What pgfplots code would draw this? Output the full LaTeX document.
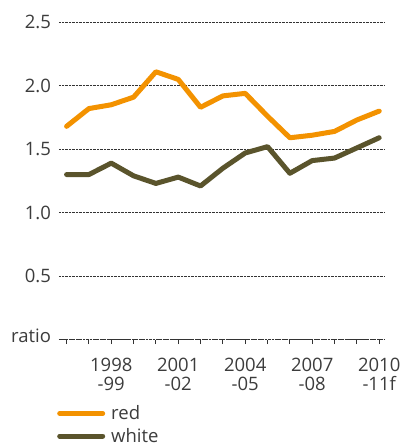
\documentclass[border=0pt]{standalone}
\usepackage{fontspec}
\setmainfont{Open Sans}
\usepackage{pgfplots}
\pgfplotsset{compat=1.18}
\usetikzlibrary{calc}
\definecolor{redwine}{RGB}{243,146,0}
\definecolor{whitewine}{RGB}{90,84,44}
\definecolor{txt}{RGB}{60,60,60}
\begin{document}
\begin{tikzpicture}
\begin{axis}[
  scale only axis, width=326pt, height=317.2pt,
  xmin=-0.34, xmax=14.26, ymin=0, ymax=2.5,
  axis x line*=bottom,
  axis y line*=left,
  x axis line style={densely dotted, black!80, line width=0.7pt},
  y axis line style={draw=none},
  clip=false,
  xtick={0,...,14},
  xticklabels={,,{1998\\-99},,,{2001\\-02},,,{2004\\-05},,,{2007\\-08},,,{2010\\-11f}},
  xticklabel style={align=center, font=\fontsize{18.5}{19}\selectfont, text=txt, yshift=-11pt},
  tick align=outside,
  major tick length=4.5pt,
  xtick style={black!80, line width=0.9pt, solid},
  ytick={0,0.5,1,1.5,2,2.5},
  yticklabels={\raisebox{7pt}{ratio},0.5,1.0,1.5,2.0,2.5},
  yticklabel style={font=\fontsize{18.5}{19}\selectfont, text=txt},
  ytick style={draw=none},
  ymajorgrids,
  major grid style={densely dotted, black!80, line width=0.7pt},
  legend style={at={(axis description cs:0,0)}, anchor=north west, draw=none, fill=none,
    font=\fontsize{18.5}{19}\selectfont, text=txt, xshift=-5pt, yshift=-62pt, row sep=3pt},
  legend cell align=left,
  legend image code/.code={\draw[#1, line width=5pt, line cap=round] (0pt,0pt) -- (43pt,0pt);},
  every axis plot/.append style={line width=5pt, line join=round, line cap=round},
]
\coordinate (o) at (rel axis cs:0,0);
\addplot[redwine] coordinates {
(0,1.68) (1,1.82) (2,1.85) (3,1.91) (4,2.11) (5,2.05) (6,1.83) (7,1.92)
(8,1.94) (9,1.76) (10,1.59) (11,1.61) (12,1.64) (13,1.73) (14,1.80)};
\addlegendentry{\hspace{4pt}red}
\addplot[whitewine] coordinates {
(0,1.30) (1,1.30) (2,1.39) (3,1.29) (4,1.23) (5,1.28) (6,1.21) (7,1.35)
(8,1.47) (9,1.52) (10,1.31) (11,1.41) (12,1.43) (13,1.51) (14,1.59)};
\addlegendentry{\hspace{4pt}white}
\end{axis}
\pgfresetboundingbox
\path[use as bounding box] ($(o)+(-59pt,-107.5pt)$) rectangle ($(o)+(349pt,339.5pt)$);
\end{tikzpicture}
\end{document}
